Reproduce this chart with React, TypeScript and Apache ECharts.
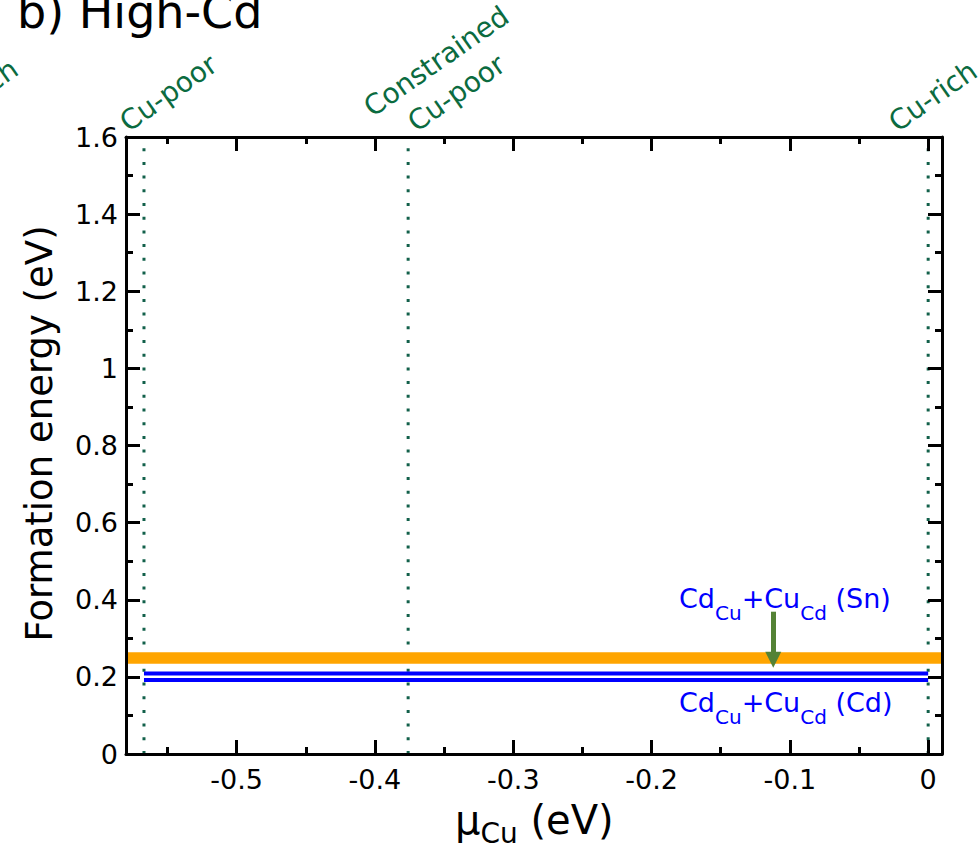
import React, { useEffect, useRef } from 'react';
import * as echarts from 'echarts';

// ---- data ----
const xMin = -0.58;
const xMax = 0.01;
const yMin = 0;
const yMax = 1.6;
const yInterval = 0.2;
// chemical potential limits (eV): Cu-poor, constrained Cu-poor, Cu-rich
const muLimits = [-0.567, -0.376, 0];
// Cd_Cu + Cu_Cd (Sn) level
const snX = [-0.58, 0.01];
const snE = [0.249, 0.249];
// Cd_Cu + Cu_Cd (Cd) levels (double line)
const cdX = [-0.567, 0];
const cdUpperE = [0.209, 0.209];
const cdLowerE = [0.192, 0.192];
// arrow from the (Sn) label down to its level
const arrowMu = -0.112;
const arrowE = [0.369, 0.2443];

const FONT = '"DejaVu Sans", "Liberation Sans", Arial, sans-serif';
const GREEN = '#0b6b3f';
const DOT = '#12604a';
const BLUE = '#0000ff';
const ORANGE = '#ffa500';
const ARROW = '#548235';

export default function App() {
  const ref = useRef<HTMLDivElement>(null);

  useEffect(() => {
    if (!ref.current) return;
    const chart = echarts.init(ref.current, undefined, { renderer: 'svg' });

    const axisLine = { show: true, onZero: false, lineStyle: { color: '#000', width: 3 } };
    const axisTick = { show: true, inside: true, length: 14, lineStyle: { color: '#000', width: 3 } };
    const minorTick = { show: true, splitNumber: 2, length: 7, lineStyle: { color: '#000', width: 3 } };
    const labelStyle = { color: '#000', fontSize: 27, fontFamily: FONT };

    const xFmt = (v: number) => {
      const r = Math.round(v * 10) / 10;
      if (Math.abs(r - v) > 1e-6) return '';
      return r === 0 ? '0' : r.toFixed(1);
    };

    const xBase: any = {
      type: 'value', min: xMin, max: xMax,
      axisLine, axisTick, minorTick,
      splitLine: { show: false }, minorSplitLine: { show: false }, z: 10,
    };
    const yBase: any = {
      type: 'value', min: yMin, max: yMax, interval: yInterval,
      axisLine, axisTick, minorTick,
      splitLine: { show: false }, minorSplitLine: { show: false }, z: 10,
    };

    const dotted = muLimits.map((m) => ({
      type: 'line',
      data: [[m, yMin], [m, yMax]],
      symbol: 'none', silent: true, z: 1,
      lineStyle: { color: DOT, width: 3, type: [3, 10.7], cap: 'butt' },
    }));

    const level = (xs: number[], es: number[], color: string, width: number, z: number) => ({
      type: 'line',
      data: xs.map((x, i) => [x, es[i]]),
      symbol: 'none', silent: true, z,
      lineStyle: { color, width, cap: 'butt' },
    });

    const rot = (35 * Math.PI) / 180;
    const greenLabel = (text: string, x: number, y: number) => ({
      type: 'text', x, y, rotation: rot, silent: true,
      style: {
        text, fontSize: 28, fontFamily: FONT, fill: GREEN,
        align: 'left', verticalAlign: 'middle', textAlign: 'left', textVerticalAlign: 'middle',
      },
    });

    const richDefect = (tail: string, x: number, y: number) => ({
      type: 'text', x, y, silent: true,
      style: {
        text: `{a|Cd}{s|Cu}{a|+Cu}{s|Cd}{a| ${tail}}`,
        fontSize: 27, fontFamily: FONT, fill: BLUE,
        align: 'left', verticalAlign: 'top', textAlign: 'left', textVerticalAlign: 'top',
        rich: {
          a: { fontSize: 27, fontFamily: FONT, fill: BLUE, color: BLUE, verticalAlign: 'top' },
          s: { fontSize: 20, fontFamily: FONT, fill: BLUE, color: BLUE, verticalAlign: 'top', padding: [18, 0, 0, 0] },
        },
      },
    });

    chart.setOption({
      animation: false,
      backgroundColor: '#fff',
      grid: { left: 126, right: 36, top: 137, bottom: 89, containLabel: false, outerBoundsMode: 'none' },
      xAxis: [
        { ...xBase, position: 'bottom',
          axisLabel: { ...labelStyle, margin: 12, showMinLabel: false, showMaxLabel: false, formatter: xFmt } },
        { ...xBase, position: 'top', axisLabel: { show: false } },
      ],
      yAxis: [
        { ...yBase, position: 'left', axisLabel: { ...labelStyle, margin: 8 } },
        { ...yBase, position: 'right', axisLabel: { show: false } },
      ],
      series: [
        ...dotted,
        level(cdX, cdUpperE, BLUE, 4, 2),
        level(cdX, cdLowerE, BLUE, 4, 2),
        level(snX, snE, ORANGE, 11.6, 3),
        {
          type: 'line', data: [], silent: true,
          markLine: {
            silent: true, animation: false,
            symbol: ['none', 'triangle'], symbolSize: 16,
            label: { show: false },
            emphasis: { disabled: true },
            lineStyle: { color: ARROW, width: 5, type: 'solid' },
            itemStyle: { color: ARROW },
            data: [[{ coord: [arrowMu, arrowE[0]] }, { coord: [arrowMu, arrowE[1]] }]],
          },
        },
      ],
      graphic: [
        {
          type: 'text', x: 17, y: 12, silent: true,
          style: { text: 'b) High-Cd', fontSize: 46, fontFamily: FONT, fill: '#000',
            align: 'left', verticalAlign: 'middle', textAlign: 'left', textVerticalAlign: 'middle' },
        },
        greenLabel('Cu-rich', -67, 123),
        greenLabel('Cu-poor', 123, 125),
        greenLabel('Constrained', 367, 110),
        greenLabel('Cu-poor', 411, 125),
        greenLabel('Cu-rich', 892, 125),
        richDefect('(Sn)', 679, 585),
        richDefect('(Cd)', 679, 688.5),
        {
          type: 'text', x: 39, y: 433.5, rotation: Math.PI / 2, silent: true,
          style: { text: 'Formation energy (eV)', fontSize: 37, fontFamily: FONT, fill: '#000',
            align: 'center', verticalAlign: 'middle', textAlign: 'center', textVerticalAlign: 'middle' },
        },
        {
          type: 'text', x: 455, y: 800, silent: true,
          style: {
            text: '{m|μ}{s|Cu}{m| (eV)}', fontSize: 40, fontFamily: FONT, fill: '#000',
            align: 'left', verticalAlign: 'top', textAlign: 'left', textVerticalAlign: 'top',
            rich: {
              m: { fontSize: 40, fontFamily: FONT, fill: '#000', color: '#000', verticalAlign: 'top' },
              s: { fontSize: 28, fontFamily: FONT, fill: '#000', color: '#000', verticalAlign: 'top', padding: [19, 0, 0, 0] },
            },
          },
        },
      ],
    });

    return () => chart.dispose();
  }, []);

  return (
    <div
      ref={ref}
      style={{ position: 'fixed', left: 0, top: 0, width: 978, height: 843, background: '#fff' }}
    />
  );
}
